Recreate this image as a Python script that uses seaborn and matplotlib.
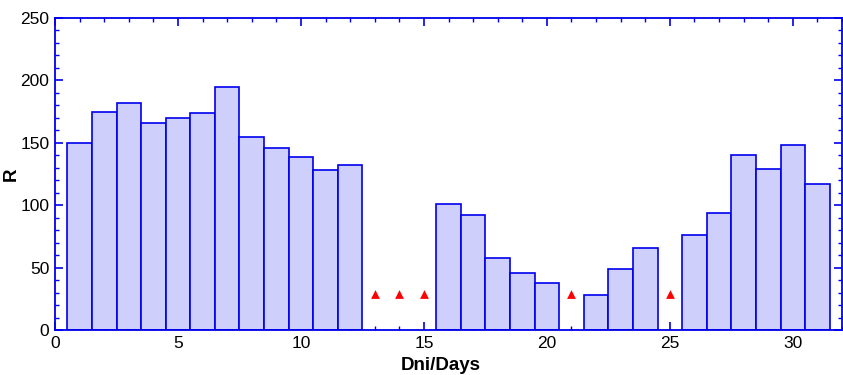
import numpy as np
import pandas as pd
import matplotlib
matplotlib.use("Agg")
import matplotlib.pyplot as plt
import seaborn as sns
from matplotlib.ticker import MultipleLocator

# ------------- data ---------------------------------
bar_days = [1, 2, 3, 4, 5, 6, 7, 8, 9, 10, 11, 12,
            16, 17, 18, 19, 20, 22, 23, 24, 26, 27, 28, 29, 30, 31]
bar_r = [150, 175, 182, 166, 170, 174, 195, 155, 146, 139, 128, 132,
         101, 92, 58, 46, 38, 28, 49, 66, 76, 94, 140, 129, 148, 117]
# days with no bar, shown as red triangles
mark_days = [13, 14, 15, 21, 25]
mark_r = [29, 29, 29, 29, 29]

bars = pd.DataFrame({"day": bar_days, "R": bar_r})
marks = pd.DataFrame({"day": mark_days, "R": mark_r})

sns.set_style("white")
plt.rcParams["font.family"] = ["Liberation Sans", "DejaVu Sans"]

fig = plt.figure(figsize=(8.43, 3.75), dpi=100)
ax = fig.add_axes([0.0653, 0.12, 0.9335, 0.832])

sns.barplot(data=bars, x="day", y="R", native_scale=True, width=1,
            color="#cfcffb", saturation=1, edgecolor="#0000ee",
            linewidth=1.2, ax=ax)
sns.scatterplot(data=marks, x="day", y="R", marker="^", color="red",
                s=40, linewidth=0, ax=ax, zorder=5)

# axes limits and ticks
ax.set_xlim(0, 32)
ax.set_ylim(0, 250)
ax.xaxis.set_major_locator(MultipleLocator(5))
ax.xaxis.set_minor_locator(MultipleLocator(1))
ax.yaxis.set_major_locator(MultipleLocator(50))
ax.yaxis.set_minor_locator(MultipleLocator(10))
ax.tick_params(which="both", direction="in", color="#0000ee",
               top=True, right=True, bottom=True, left=True,
               labelsize=12.5, labelcolor="black")
ax.tick_params(which="major", length=6, width=1.2, pad=4)
ax.tick_params(which="minor", length=3, width=1.0)
for s in ax.spines.values():
    s.set_color("#0000ee")
    s.set_linewidth(1.3)

ax.set_xlabel("Dni/Days", fontsize=13.5, fontweight="bold", color="black")
ax.set_ylabel("R", fontsize=13.5, fontweight="bold", color="black")
ax.xaxis.set_label_coords(0.49, -0.085)
ax.yaxis.set_label_coords(-0.045, 0.5)

plt.savefig("out.png", dpi=100)
